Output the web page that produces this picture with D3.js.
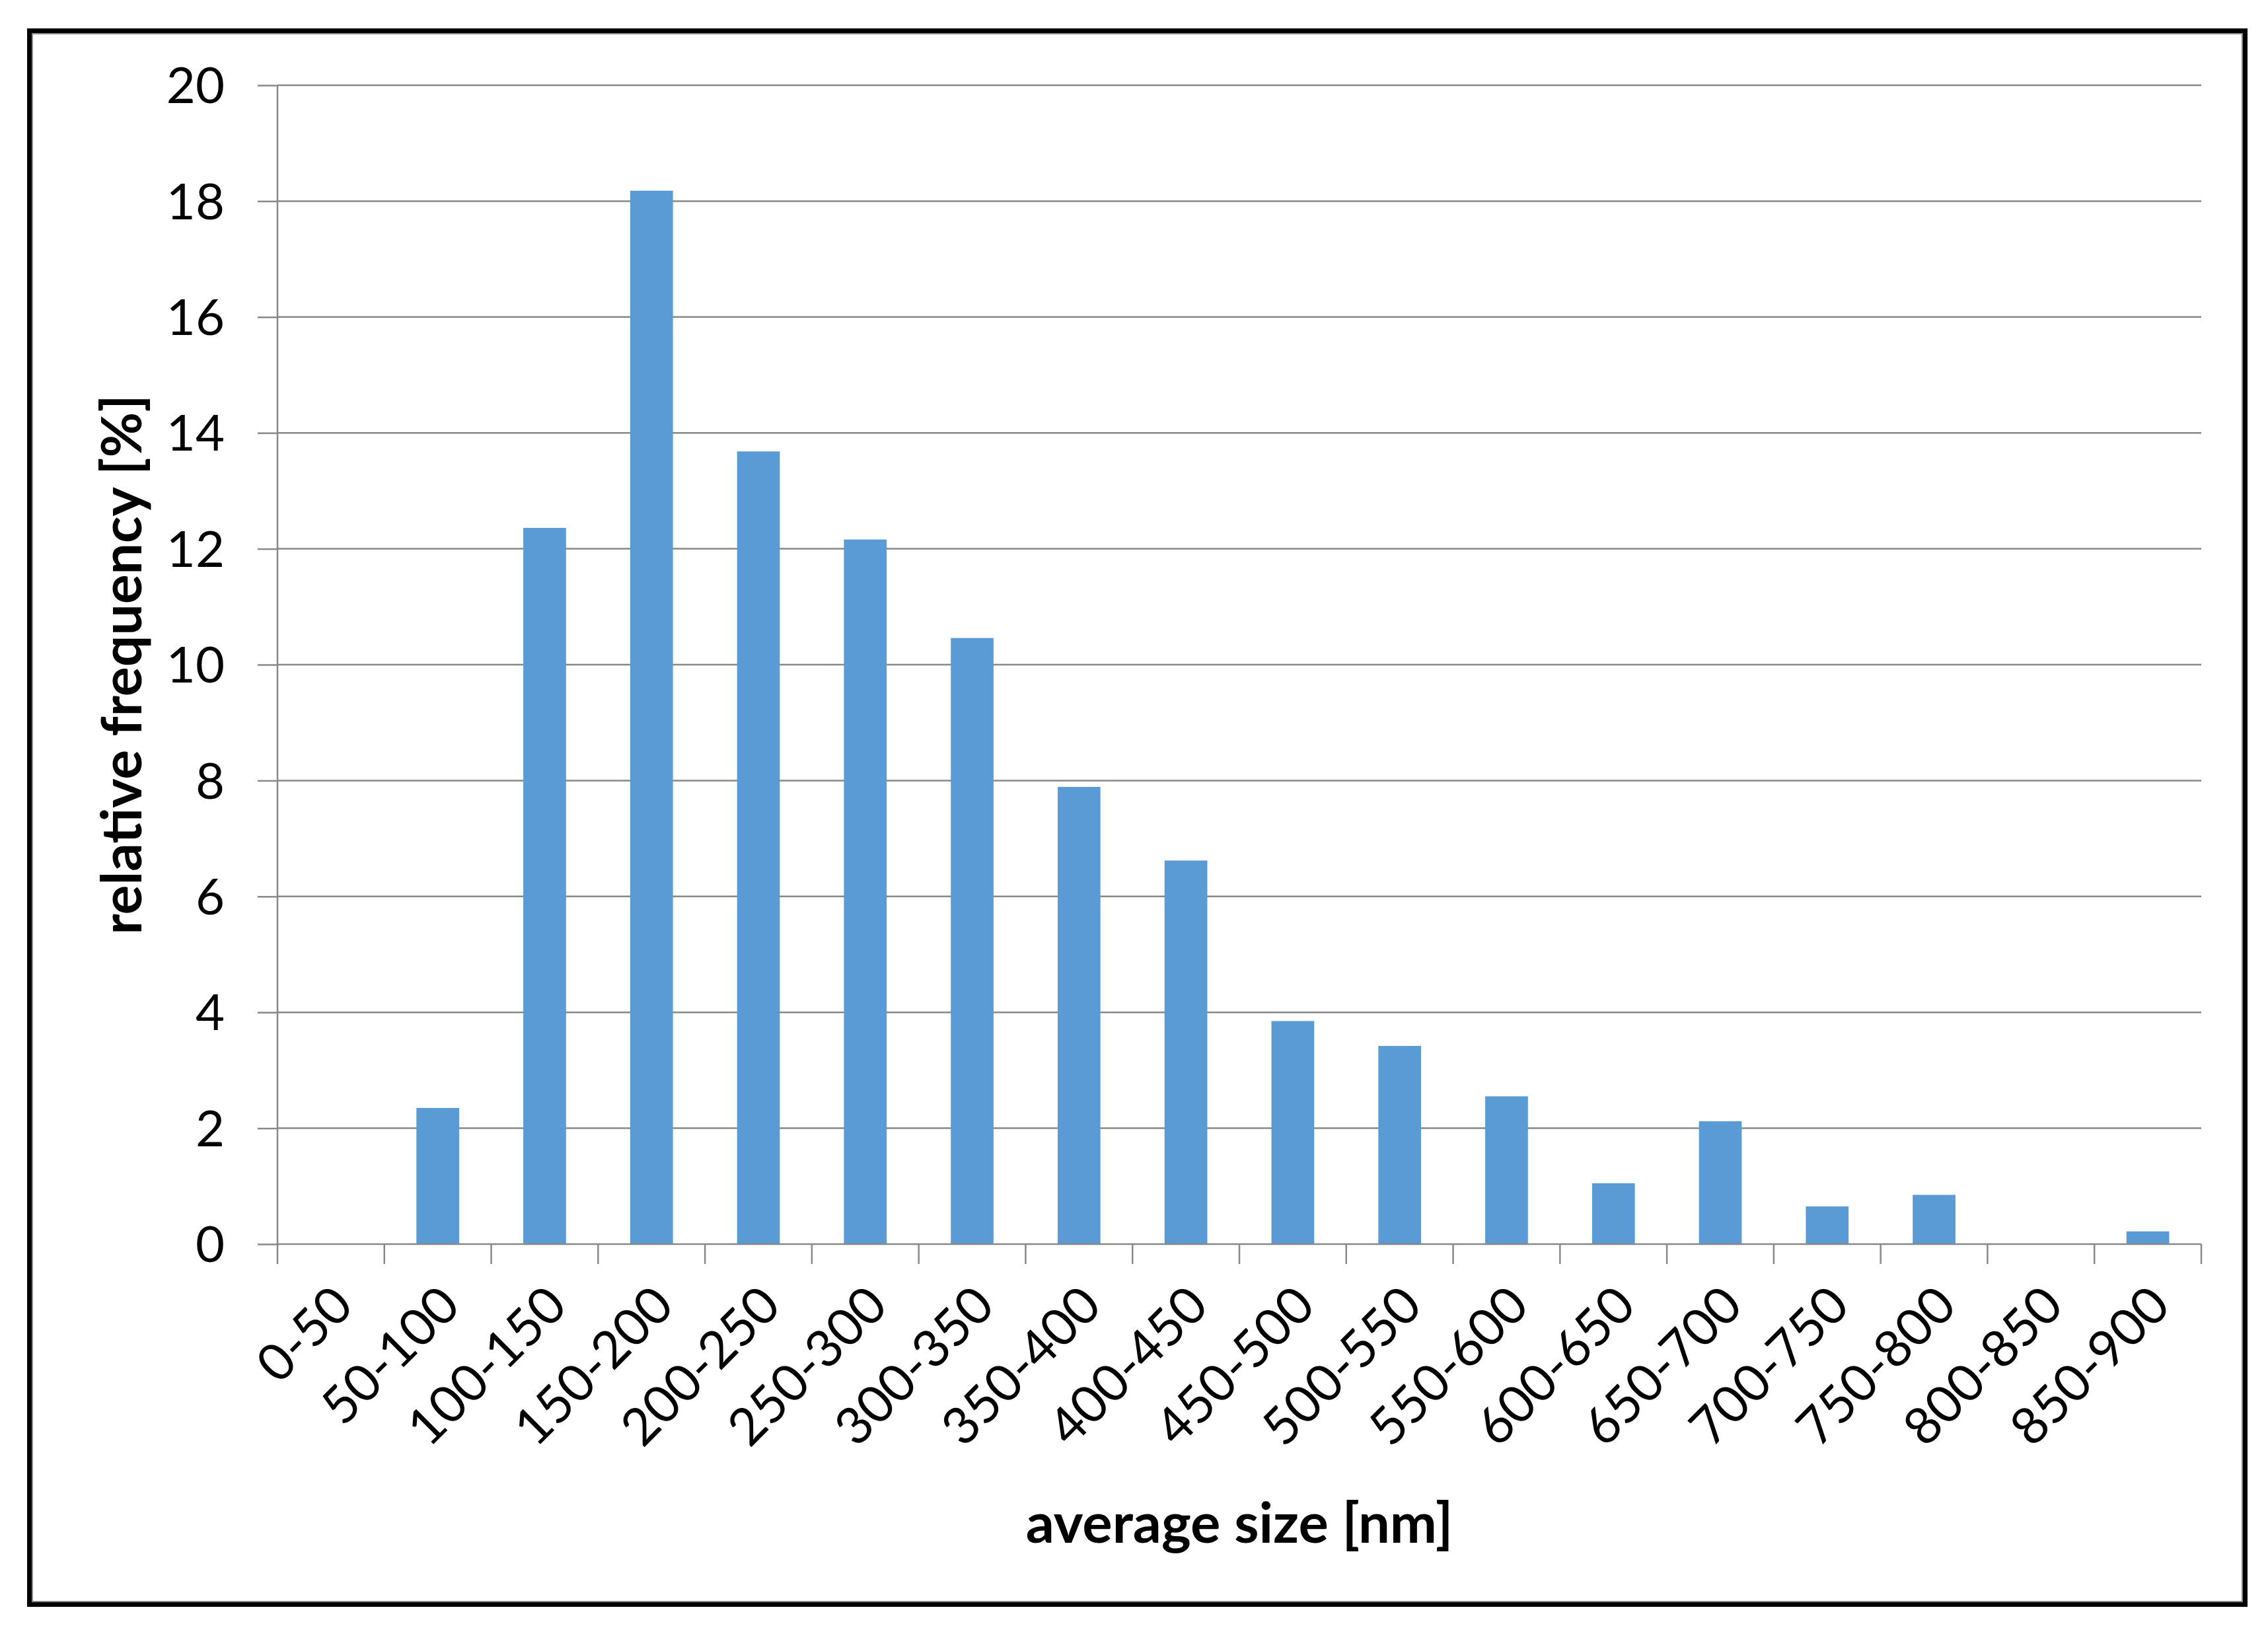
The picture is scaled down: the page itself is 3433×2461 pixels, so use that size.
<!DOCTYPE html>
<html><head><meta charset="utf-8">
<script src="https://cdn.jsdelivr.net/npm/d3@7"></script>
<style>body{margin:0;background:#fff}svg{display:block}</style>
</head><body>
<script>
const categories = ["0-50","50-100","100-150","150-200","200-250","250-300","300-350","350-400","400-450","450-500","500-550","550-600","600-650","650-700","700-750","750-800","800-850","850-900"];
const values = [0,2.35,12.36,18.18,13.68,12.16,10.46,7.89,6.62,3.85,3.42,2.55,1.05,2.12,0.65,0.85,0,0.22];
const yTicks = [0,2,4,6,8,10,12,14,16,18,20];
const xTitle = "average size [nm]";
const yTitle = "relative frequency [%]";

const W = 3433, H = 2461;
const m = {left:420, right:3332, top:129, bottom:1883};
const font = "Lato, 'Open Sans', sans-serif";

const svg = d3.select("body").append("svg").attr("width",W).attr("height",H);
svg.append("rect").attr("width",W).attr("height",H).attr("fill","#fff");
// frame
svg.append("rect").attr("x",44.5).attr("y",46.5).attr("width",3354).attr("height",2382)
  .attr("fill","none").attr("stroke","#000").attr("stroke-width",7);
svg.append("rect").attr("x",49).attr("y",51).attr("width",3345).attr("height",2373)
  .attr("fill","none").attr("stroke","#888").attr("stroke-width",2);

const x = d3.scaleBand().domain(categories).range([m.left,m.right]).paddingInner(0).paddingOuter(0);
const y = d3.scaleLinear().domain([0,20]).range([m.bottom,m.top]);

// gridlines
svg.append("g").selectAll("line").data(yTicks.filter(d=>d>0)).join("line")
  .attr("x1",m.left).attr("x2",m.right).attr("y1",d=>y(d)).attr("y2",d=>y(d))
  .attr("stroke","#888").attr("stroke-width",2.5);

// bars
const bw = x.bandwidth()*0.4;
svg.append("g").selectAll("rect").data(values).join("rect")
  .attr("x",(d,i)=>x(categories[i])+x.bandwidth()/2-bw/2)
  .attr("width",bw)
  .attr("y",d=>y(d)).attr("height",d=>y(0)-y(d))
  .attr("fill","#5B9BD5");

// y axis
const yAxis = d3.axisLeft(y).tickValues(yTicks).tickSize(30).tickPadding(50);
const gy = svg.append("g").attr("transform",`translate(${m.left},0)`).call(yAxis);
gy.select(".domain").attr("stroke","#888").attr("stroke-width",2.5).attr("d",`M0,${m.top}V${m.bottom}`);
gy.selectAll(".tick line").attr("stroke","#888").attr("stroke-width",2.5);
gy.selectAll(".tick text").attr("font-family",font).attr("font-size",76).attr("fill","#000").attr("dy","0.35em");

// x axis
const xb = d3.scaleLinear().domain([0,categories.length]).range([m.left,m.right]);
const gx = svg.append("g").attr("transform",`translate(0,${m.bottom})`);
gx.append("line").attr("x1",m.left).attr("x2",m.right).attr("stroke","#888").attr("stroke-width",2.5);
gx.selectAll("line.t").data(d3.range(categories.length+1)).join("line").attr("class","t")
  .attr("x1",d=>xb(d)).attr("x2",d=>xb(d)).attr("y1",0).attr("y2",30)
  .attr("stroke","#888").attr("stroke-width",2.5);
gx.selectAll("text").data(categories).join("text")
  .attr("transform",d=>`translate(${x(d)+x.bandwidth()/2+18},${78}) rotate(-45)`)
  .attr("text-anchor","end").attr("dy","0.35em")
  .attr("font-family",font).attr("font-size",78).attr("fill","#000").text(d=>d);

// titles
svg.append("text").attr("x",(m.left+m.right)/2).attr("y",2335).attr("text-anchor","middle")
  .attr("font-family",font).attr("font-weight","bold").attr("font-size",85).attr("fill","#000").text(xTitle);
svg.append("text").attr("transform",`translate(214,${(m.top+m.bottom)/2}) rotate(-90)`).attr("text-anchor","middle")
  .attr("font-family",font).attr("font-weight","bold").attr("font-size",84).attr("fill","#000").text(yTitle);
</script>
</body></html>
